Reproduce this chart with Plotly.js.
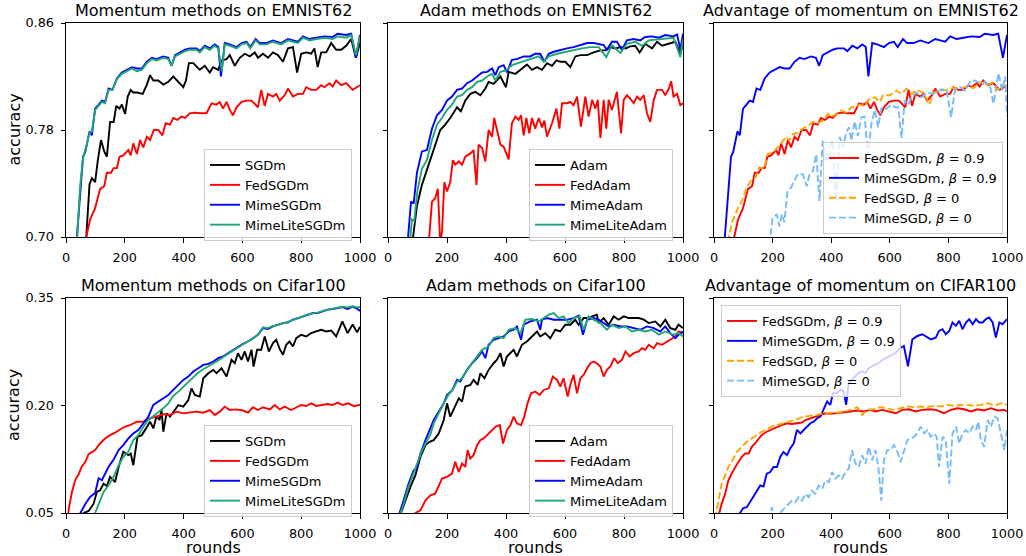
<!DOCTYPE html>
<html>
<head>
<meta charset="utf-8">
<script src="https://cdn.plot.ly/plotly-3.0.1.min.js"></script>
<style>html,body{margin:0;padding:0;background:#fff;}#chart{width:1026px;height:556px;}</style>
</head>
<body>
<div id="chart"></div>
<script>
// ---------- EMNIST62 (top row) ----------
const sgdmEmR = [0,60,69,80,88,99,108,119,130,139,150,162,171,182,190,201,210,220,229,241,261,275,286,297,314,331,348,365,382,399,408,418,433,455,472,489,500,518,529,546,557,574,591,608,625,642,653,670,687,704,721,738,755,772,786,800,817,834,845,856,868,885,902,919,936,953,970,986,1000];
const sgdmEmAcc = [0.3,0.62,0.70,0.7395,0.744,0.741,0.757,0.7725,0.764,0.760,0.786,0.786,0.798,0.796,0.799,0.792,0.805,0.810,0.808,0.808,0.807,0.814,0.821,0.817,0.817,0.814,0.816,0.820,0.816,0.812,0.817,0.830,0.830,0.825,0.828,0.823,0.827,0.825,0.832,0.833,0.836,0.828,0.834,0.837,0.835,0.838,0.834,0.837,0.834,0.838,0.836,0.831,0.841,0.842,0.823,0.837,0.838,0.837,0.841,0.827,0.838,0.838,0.845,0.840,0.840,0.843,0.848,0.834,0.845];

const fedSgdmEmR = [0,60,69,82,99,116,130,139,153,162,173,182,195,212,220,229,241,252,263,275,286,299,314,328,339,354,365,379,393,405,421,438,455,478,495,512,523,534,546,557,568,580,597,614,631,653,664,676,687,704,715,727,744,755,772,789,806,817,834,851,868,879,896,907,919,936,953,975,1000];
const fedSgdmEmAcc = [0.3,0.67,0.70,0.713,0.7215,0.736,0.738,0.748,0.748,0.7515,0.7515,0.760,0.761,0.765,0.761,0.770,0.762,0.7725,0.767,0.775,0.7725,0.780,0.780,0.776,0.785,0.784,0.789,0.7875,0.790,0.789,0.7925,0.793,0.7925,0.7925,0.800,0.799,0.801,0.796,0.801,0.795,0.791,0.797,0.801,0.802,0.802,0.797,0.810,0.798,0.807,0.805,0.807,0.802,0.806,0.811,0.805,0.807,0.807,0.812,0.810,0.810,0.8135,0.812,0.815,0.8125,0.817,0.8135,0.815,0.810,0.8135];

const mimeSgdmEmR = [0,30,37,48,58,66,73,80,88,99,111,122,133,145,158,173,190,207,224,241,258,275,292,308,331,348,359,371,388,405,421,444,455,472,489,506,518,527,540,557,580,597,614,627,645,659,681,704,732,755,772,789,806,828,851,879,907,924,953,970,986,1000];
const mimeSgdmEmAcc = [0.3,0.67,0.70,0.735,0.760,0.764,0.7725,0.779,0.776,0.796,0.799,0.802,0.801,0.811,0.810,0.8185,0.823,0.825,0.827,0.826,0.826,0.831,0.834,0.833,0.835,0.834,0.828,0.836,0.838,0.840,0.841,0.841,0.839,0.843,0.841,0.844,0.842,0.820,0.845,0.844,0.842,0.845,0.846,0.842,0.848,0.845,0.845,0.847,0.845,0.848,0.847,0.846,0.850,0.848,0.849,0.850,0.8495,0.852,0.851,0.852,0.834,0.851];

const mimeLiteSgdmEmR = [0,30,38,48,58,66,73,80,88,99,111,122,133,145,158,173,190,207,224,241,258,275,292,308,331,348,359,371,388,405,421,444,455,472,489,506,518,530,540,557,580,597,614,627,645,659,681,704,732,755,772,789,806,828,851,879,907,924,953,970,986,1000];
const mimeLiteSgdmEmAcc = [0.3,0.66,0.70,0.738,0.759,0.765,0.771,0.778,0.779,0.795,0.798,0.801,0.800,0.810,0.810,0.818,0.822,0.824,0.826,0.824,0.825,0.830,0.833,0.832,0.834,0.833,0.828,0.835,0.837,0.839,0.840,0.840,0.838,0.842,0.840,0.843,0.841,0.824,0.844,0.843,0.841,0.844,0.845,0.841,0.847,0.844,0.844,0.846,0.844,0.847,0.846,0.845,0.849,0.847,0.848,0.849,0.848,0.850,0.849,0.851,0.836,0.850];

const adamEmR = [0,75,85,98,115,132,149,166,177,194,211,234,247,262,279,296,313,330,341,358,381,400,409,432,454,471,488,505,522,539,556,571,584,601,618,635,652,675,697,720,737,754,771,788,805,821,838,853,872,895,912,929,951,974,991,1000];
const adamEmAcc = [0.3,0.67,0.70,0.723,0.739,0.750,0.761,0.7725,0.780,0.784,0.789,0.797,0.794,0.802,0.807,0.8085,0.806,0.811,0.816,0.8145,0.820,0.812,0.8235,0.822,0.826,0.829,0.825,0.827,0.825,0.830,0.828,0.832,0.831,0.831,0.827,0.835,0.836,0.836,0.838,0.8395,0.8395,0.842,0.841,0.842,0.841,0.8425,0.843,0.838,0.8445,0.841,0.846,0.843,0.8445,0.846,0.837,0.845];

const fedAdamEmR = [0,130,141,149,160,169,177,183,191,200,211,220,228,240,251,262,279,290,300,307,319,330,341,353,360,369,381,392,409,420,432,443,451,460,469,479,488,499,511,522,530,539,556,571,581,590,607,618,629,641,654,669,680,692,703,711,720,731,740,748,759,776,790,799,810,821,833,844,855,867,878,889,901,912,929,940,952,960,968,980,991,1000];
const fedAdamEmAcc = [0.3,0.67,0.70,0.7265,0.729,0.736,0.695,0.704,0.741,0.734,0.741,0.7575,0.754,0.7565,0.754,0.760,0.7625,0.765,0.739,0.769,0.7665,0.7565,0.780,0.775,0.789,0.781,0.769,0.7675,0.758,0.785,0.790,0.7875,0.791,0.776,0.789,0.7775,0.789,0.781,0.789,0.782,0.787,0.775,0.785,0.796,0.781,0.800,0.800,0.801,0.7985,0.805,0.7825,0.805,0.790,0.8025,0.796,0.8025,0.774,0.8025,0.781,0.8025,0.795,0.8085,0.7775,0.8025,0.806,0.8035,0.800,0.805,0.8025,0.806,0.7925,0.786,0.8025,0.810,0.810,0.806,0.811,0.8165,0.805,0.807,0.7985,0.800];

const mimeAdamEmR = [0,60,68,78,87,98,115,132,149,166,183,200,217,234,251,268,285,302,319,336,353,364,375,392,403,420,437,460,482,499,516,530,545,562,584,607,629,652,675,697,714,731,742,759,776,793,810,833,855,872,895,918,940,968,980,991,1000];
const mimeAdamEmAcc = [0.3,0.66,0.70,0.7265,0.725,0.748,0.764,0.765,0.781,0.791,0.795,0.802,0.805,0.810,0.811,0.815,0.817,0.820,0.823,0.8235,0.826,0.821,0.827,0.8285,0.823,0.8325,0.833,0.835,0.835,0.837,0.837,0.831,0.837,0.8385,0.840,0.841,0.842,0.8435,0.845,0.845,0.844,0.8435,0.840,0.846,0.846,0.840,0.847,0.848,0.847,0.8495,0.850,0.849,0.851,0.850,0.8515,0.840,0.852];

const mimeLiteAdamEmR = [0,65,76,81,89,100,115,132,149,166,183,200,217,234,251,268,285,302,319,336,353,364,381,400,420,443,466,488,511,528,545,573,601,629,658,686,714,740,759,788,810,838,861,884,912,940,968,991,1000];
const mimeLiteAdamEmAcc = [0.3,0.67,0.70,0.713,0.712,0.735,0.751,0.7575,0.7725,0.784,0.789,0.795,0.799,0.805,0.806,0.810,0.812,0.816,0.817,0.820,0.822,0.817,0.8235,0.8245,0.8285,0.830,0.832,0.833,0.835,0.831,0.835,0.837,0.8385,0.840,0.841,0.842,0.842,0.8345,0.8435,0.8375,0.8445,0.846,0.843,0.847,0.8475,0.848,0.849,0.8345,0.848];

const fedSgdEmR = [0,40,51,63,80,97,114,126,143,154,171,183,200,217,229,246,257,269,286,303,320,337,354,371,389,400,417,434,451,469,486,497,514,531,549,566,577,600,623,640,657,674,691,714,735,749,771,794,817,840,863,886,909,926,949,966,983,1000];
const fedSgdEmAcc = [0.3,0.67,0.70,0.712,0.7205,0.728,0.738,0.742,0.745,0.752,0.751,0.762,0.763,0.767,0.770,0.775,0.772,0.777,0.778,0.781,0.783,0.786,0.785,0.787,0.792,0.7895,0.792,0.7945,0.793,0.797,0.797,0.799,0.798,0.8035,0.8045,0.801,0.806,0.806,0.8095,0.807,0.811,0.807,0.810,0.808,0.799,0.808,0.8095,0.810,0.8115,0.811,0.8125,0.8115,0.816,0.8135,0.815,0.810,0.8125,0.8135];

const mimeSgdEmR = [0,180,192,200,214,223,232,240,251,263,274,286,303,317,326,337,349,360,371,383,394,406,417,429,440,451,461,469,480,491,503,514,526,537,549,560,571,583,594,606,617,629,640,651,663,674,691,709,726,743,760,777,794,809,823,840,857,874,891,909,926,943,954,971,983,994,1000];
const mimeSgdEmAcc = [0.3,0.67,0.70,0.714,0.717,0.708,0.717,0.711,0.7345,0.737,0.742,0.747,0.747,0.738,0.747,0.749,0.762,0.727,0.772,0.757,0.767,0.772,0.727,0.775,0.767,0.778,0.782,0.772,0.7865,0.7755,0.7895,0.790,0.7615,0.7845,0.795,0.782,0.796,0.795,0.797,0.799,0.797,0.797,0.774,0.802,0.799,0.8045,0.808,0.8045,0.808,0.807,0.808,0.8105,0.8095,0.7895,0.8105,0.812,0.8095,0.816,0.817,0.8145,0.816,0.812,0.7995,0.8225,0.8095,0.820,0.7905];

// ---------- Cifar100 (bottom row) ----------
const sgdmCiR = [0,50,60,77,94,105,116,128,139,150,167,179,195,212,220,229,243,258,275,286,297,308,318,325,331,342,354,365,382,399,416,427,438,455,467,484,501,512,529,546,563,574,585,597,608,619,631,638,650,664,676,690,704,715,727,738,749,760,772,783,800,817,834,851,868,885,902,919,930,940,958,975,990,1000];
const sgdmCiAcc = [0.0,0.04,0.05,0.0528,0.063,0.0794,0.0817,0.091,0.0873,0.1004,0.0933,0.1144,0.1354,0.1307,0.133,0.1167,0.1564,0.1587,0.1704,0.1774,0.168,0.1853,0.1797,0.1937,0.1634,0.189,0.1844,0.1914,0.2007,0.1984,0.2077,0.224,0.2147,0.2124,0.238,0.245,0.2497,0.245,0.252,0.2404,0.2637,0.259,0.273,0.2637,0.2754,0.2614,0.2777,0.2544,0.2777,0.2777,0.2963,0.2754,0.287,0.2917,0.2786,0.2707,0.2847,0.2893,0.2823,0.294,0.2987,0.2963,0.301,0.3033,0.3057,0.3033,0.3047,0.2963,0.308,0.3173,0.301,0.313,0.302,0.310];

const fedSgdmCiR = [0,5,9,20,32,43,54,66,77,88,99,116,133,150,167,184,201,218,241,263,286,308,331,354,376,399,421,444,467,489,506,523,540,557,580,602,619,636,653,670,693,710,727,744,766,783,800,817,834,851,868,890,907,924,941,960,980,1000];
const fedSgdmCiAcc = [0.0,0.04,0.0547,0.079,0.0967,0.104,0.1153,0.1214,0.132,0.135,0.1377,0.147,0.154,0.1587,0.162,0.1666,0.1704,0.1727,0.1774,0.1774,0.182,0.1844,0.188,0.1867,0.1914,0.189,0.190,0.1914,0.190,0.1937,0.1867,0.1914,0.1984,0.1937,0.1946,0.193,0.190,0.1975,0.1937,0.1975,0.1946,0.2007,0.1946,0.1984,0.1937,0.1975,0.2007,0.1993,0.203,0.1993,0.2007,0.2021,0.2007,0.204,0.2007,0.203,0.199,0.201];

const mimeSgdmCiR = [0,40,49,66,82,99,111,122,133,145,162,179,195,212,229,246,263,280,297,314,331,348,365,382,399,416,433,450,467,484,501,518,534,551,568,585,602,619,636,653,670,687,704,721,738,755,772,789,806,823,840,856,873,890,907,924,941,958,975,990,1000];
const mimeSgdmCiAcc = [0.0,0.04,0.05,0.063,0.0724,0.078,0.0985,0.0957,0.105,0.1144,0.1247,0.1377,0.1447,0.154,0.161,0.1657,0.175,0.1844,0.2007,0.2054,0.21,0.2147,0.2217,0.2287,0.2357,0.2404,0.2474,0.252,0.2567,0.258,0.2614,0.266,0.2684,0.273,0.2777,0.2814,0.286,0.2893,0.294,0.2987,0.308,0.3066,0.3103,0.3127,0.315,0.316,0.3197,0.322,0.3243,0.3267,0.329,0.329,0.3313,0.3337,0.3346,0.336,0.3374,0.3346,0.338,0.335,0.332];

const mimeLiteSgdmCiR = [0,90,99,111,128,145,162,179,195,212,229,246,263,280,297,314,331,348,365,382,399,416,433,450,467,484,501,518,534,551,568,585,602,619,636,653,670,687,704,721,738,755,772,789,806,823,840,856,873,890,907,924,941,958,975,990,1000];
const mimeLiteSgdmCiAcc = [0.0,0.04,0.05,0.063,0.0794,0.0887,0.1004,0.1167,0.1284,0.1354,0.1517,0.1587,0.1704,0.1797,0.1853,0.19,0.196,0.203,0.2133,0.2194,0.2264,0.2334,0.2404,0.246,0.2506,0.2543,0.259,0.2627,0.2674,0.272,0.277,0.281,0.2855,0.2895,0.2935,0.299,0.309,0.308,0.311,0.3125,0.3145,0.316,0.319,0.3215,0.3245,0.327,0.3285,0.3295,0.332,0.3335,0.3355,0.3365,0.338,0.337,0.3385,0.337,0.3375];

const adamCiR = [0,35,42,59,76,93,110,127,141,155,172,189,200,211,228,240,251,262,279,290,304,313,327,341,358,369,381,392,403,415,426,437,454,471,488,505,516,533,550,567,584,601,618,635,646,663,675,692,708,714,731,748,765,782,799,816,833,850,867,884,906,923,940,957,974,985,1000];
const adamCiAcc = [0.0,0.04,0.05,0.0677,0.0864,0.1027,0.1284,0.1447,0.1494,0.1517,0.161,0.1797,0.203,0.1844,0.1984,0.21,0.2054,0.2264,0.2287,0.2357,0.2287,0.245,0.238,0.2497,0.259,0.2637,0.273,0.2544,0.2684,0.273,0.2777,0.2684,0.2847,0.2893,0.2963,0.3033,0.2963,0.301,0.294,0.3057,0.3033,0.3127,0.3127,0.3197,0.3127,0.322,0.322,0.3243,0.3267,0.315,0.322,0.3127,0.3243,0.3197,0.3243,0.322,0.322,0.322,0.3197,0.315,0.3173,0.3103,0.3197,0.308,0.3057,0.3127,0.308];

const fedAdamCiR = [0,85,93,110,127,144,160,172,183,200,217,228,240,251,262,270,279,290,302,313,324,336,353,364,379,390,403,415,426,437,451,462,473,485,499,514,528,545,559,573,584,595,609,618,629,641,652,663,675,686,697,708,720,731,742,754,767,779,793,805,819,833,850,861,872,884,901,912,929,946,963,974,985,1000];
const fedAdamCiAcc = [0.0,0.04,0.05,0.0537,0.0677,0.0747,0.077,0.0887,0.098,0.1004,0.105,0.1214,0.1074,0.119,0.1144,0.1377,0.126,0.1307,0.1447,0.1517,0.154,0.1587,0.1657,0.1704,0.1727,0.147,0.1657,0.1727,0.1844,0.175,0.1727,0.1844,0.203,0.217,0.2194,0.2147,0.2217,0.224,0.2404,0.2357,0.2264,0.238,0.2124,0.2287,0.2427,0.217,0.238,0.2427,0.252,0.259,0.2614,0.259,0.2544,0.2404,0.2497,0.2544,0.266,0.259,0.2637,0.2754,0.2684,0.273,0.2754,0.28,0.2777,0.2847,0.28,0.287,0.2847,0.2893,0.294,0.2963,0.3033,0.301];

const mimeAdamCiR = [0,32,40,53,70,87,96,110,127,141,155,172,189,200,217,234,245,268,285,302,319,330,341,358,375,392,409,426,437,451,460,482,505,516,522,539,562,584,607,629,646,661,675,697,714,731,748,765,788,810,833,855,878,901,923,940,957,974,985,1000];
const mimeAdamCiAcc = [0.0,0.04,0.05,0.0677,0.091,0.1097,0.1107,0.133,0.1517,0.1657,0.1797,0.1914,0.203,0.2147,0.2208,0.2357,0.2334,0.2497,0.259,0.266,0.2754,0.266,0.2847,0.2917,0.294,0.2963,0.3033,0.3057,0.3103,0.2917,0.3127,0.3173,0.3197,0.3057,0.3197,0.322,0.3197,0.3197,0.3197,0.322,0.3253,0.2987,0.3197,0.322,0.3197,0.315,0.3103,0.3127,0.3103,0.3103,0.308,0.3057,0.3103,0.308,0.3033,0.3103,0.301,0.294,0.2987,0.3033];

const mimeLiteAdamCiR = [0,34,42,55,70,87,100,115,130,143,155,172,189,205,217,234,250,268,285,302,319,341,358,375,392,409,432,449,466,488,511,528,545,562,579,595,612,629,650,663,680,697,720,742,759,782,805,827,850,872,895,918,940,968,985,1000];
const mimeLiteAdamCiAcc = [0.0,0.04,0.05,0.065,0.087,0.107,0.122,0.137,0.1494,0.1587,0.175,0.190,0.203,0.215,0.221,0.233,0.238,0.250,0.259,0.268,0.2777,0.2823,0.294,0.2963,0.294,0.3057,0.308,0.301,0.3197,0.3206,0.3173,0.322,0.3267,0.329,0.322,0.3243,0.315,0.322,0.3243,0.3057,0.3243,0.3197,0.315,0.3057,0.3127,0.308,0.3103,0.3033,0.3057,0.3033,0.3057,0.2987,0.3033,0.2987,0.301,0.2963];

const fedSgdmCi2R = [0,10,18,26,38,49,60,72,83,95,106,118,129,140,152,163,180,197,215,232,249,266,283,300,312,329,346,363,380,397,420,443,466,489,511,534,551,574,597,620,643,666,688,711,734,757,785,808,831,854,877,900,922,945,968,991,1000];
const fedSgdmCi2Acc = [0.0,0.035,0.05,0.0627,0.0767,0.0955,0.1048,0.1142,0.1213,0.1283,0.133,0.133,0.1423,0.147,0.154,0.1588,0.1634,0.1667,0.1695,0.1728,0.1752,0.1742,0.1752,0.1761,0.1798,0.1822,0.1845,0.1869,0.1892,0.1883,0.1892,0.1902,0.1916,0.193,0.1916,0.1939,0.1916,0.1939,0.1916,0.1892,0.1939,0.1948,0.1916,0.1939,0.1948,0.1939,0.1892,0.1939,0.1962,0.1948,0.1916,0.1948,0.193,0.1962,0.193,0.1939,0.1916];

const mimeSgdmCi2R = [0,80,89,100,112,123,135,146,158,169,180,192,203,215,226,237,249,260,272,283,295,306,317,329,340,352,363,374,386,397,406,420,432,443,451,460,471,483,494,506,517,528,540,551,563,574,591,603,620,637,648,662,677,694,711,728,740,757,768,780,791,803,814,826,837,848,860,871,883,894,905,917,928,939,951,962,974,985,1000];
const mimeSgdmCi2Acc = [0.0,0.04,0.05,0.057,0.058,0.065,0.0744,0.0814,0.0884,0.087,0.1048,0.1072,0.1142,0.1142,0.1283,0.1353,0.1306,0.14,0.147,0.1658,0.1611,0.1658,0.1705,0.1752,0.1775,0.1822,0.1845,0.1939,0.2056,0.2009,0.2173,0.2173,0.222,0.2197,0.2009,0.2314,0.2361,0.2408,0.2455,0.2478,0.2455,0.2525,0.2548,0.2572,0.2595,0.2633,0.2666,0.2698,0.2736,0.2806,0.283,0.2548,0.2923,0.297,0.2994,0.2947,0.2923,0.2947,0.3041,0.3064,0.2994,0.3041,0.3158,0.3111,0.3181,0.3064,0.3158,0.3205,0.3134,0.3205,0.3158,0.3158,0.3205,0.3228,0.3158,0.2947,0.3158,0.3134,0.3205];

const fedSgdCiR = [0,3,7,15,26,38,49,60,78,95,112,129,146,163,180,197,215,237,260,283,306,329,352,374,397,420,443,466,489,506,523,546,568,591,614,637,660,683,705,728,751,774,797,820,842,865,888,911,934,957,979,1000];
const fedSgdCiAcc = [0.0,0.035,0.05,0.0673,0.0908,0.1025,0.1142,0.1213,0.1353,0.1423,0.1494,0.154,0.1588,0.1634,0.1667,0.1705,0.1728,0.1752,0.1775,0.1808,0.1845,0.1855,0.1869,0.1892,0.1892,0.1902,0.1916,0.1939,0.1977,0.1869,0.1939,0.1948,0.1977,0.1962,0.1939,0.1962,0.1986,0.1977,0.1986,0.1977,0.1995,0.1986,0.2009,0.1995,0.2009,0.2009,0.1995,0.2009,0.2033,0.1995,0.2033,0.2009];

const mimeSgdCiR = [190,197,205,220,232,243,255,266,277,289,300,312,323,334,346,357,369,380,392,403,414,426,437,449,460,471,483,494,506,517,528,540,551,561,571,580,591,603,614,626,637,648,660,671,683,694,705,717,728,740,751,760,768,780,791,803,814,826,837,848,860,871,883,894,902,911,922,934,945,957,968,979,991,1000];
const mimeSgdCiAcc = [0.04,0.058,0.045,0.048,0.0533,0.058,0.0627,0.0673,0.065,0.072,0.0673,0.0767,0.072,0.0814,0.0767,0.0884,0.0837,0.0955,0.0931,0.1072,0.0978,0.1025,0.0978,0.1072,0.1119,0.1377,0.1189,0.1142,0.1306,0.1189,0.1423,0.1236,0.1377,0.1142,0.0673,0.1236,0.1377,0.1377,0.1447,0.1353,0.1213,0.1353,0.1517,0.1541,0.1564,0.1611,0.1705,0.1611,0.1658,0.1564,0.1611,0.1564,0.1142,0.1564,0.1517,0.0908,0.1611,0.1705,0.147,0.1611,0.1658,0.1611,0.1705,0.1658,0.1775,0.1517,0.1423,0.1798,0.1705,0.1845,0.1822,0.1611,0.1377,0.1658];

// ---------- labels ----------
const panelTitles = ["Momentum methods on EMNIST62","Adam methods on EMNIST62","Advantage of momentum on EMNIST62",
                     "Momentum methods on Cifar100","Adam methods on Cifar100","Advantage of momentum on CIFAR100"];
const xTickVals = [0,200,400,600,800,1000];
const yTopTicks = [0.70,0.78,0.86];
const yTopTickText = ["0.70","0.78","0.86"];
const yBotTicks = [0.05,0.20,0.35];
const yBotTickText = ["0.05","0.20","0.35"];
const xLabel = "rounds";
const yLabel = "accuracy";

// ---------- styling ----------
const W = 1026, H = 556;
const FONT = "DejaVu Sans";
const C = {black:"#000000", red:"#ff0000", blue:"#0000ff", green:"#1fa774", orange:"#ffa500", lblue:"#75bbfd"};
const colPx = [[66,360],[388,683],[714,1007]];
const rowPx = [[23,237],[298,513]];
const legendPx = [[204,149],[529,149],[823,142],[204,425],[529,425],[721,305]];

function tr(x, y, name, color, idx, dash){
  const s = idx===1 ? "" : String(idx);
  return {type:"scatter", mode:"lines", x:x, y:y, name:name,
    line:{color:color, width:1.9, dash: dash ? "7px,3px" : "solid"},
    xaxis:"x"+s, yaxis:"y"+s, legend:"legend"+s, hoverinfo:"skip"};
}
const b09 = ", <i>β</i> = 0.9", b0 = ", <i>β</i> = 0";
const traces = [
  tr(sgdmEmR, sgdmEmAcc, "SGDm", C.black, 1),
  tr(fedSgdmEmR, fedSgdmEmAcc, "FedSGDm", C.red, 1),
  tr(mimeSgdmEmR, mimeSgdmEmAcc, "MimeSGDm", C.blue, 1),
  tr(mimeLiteSgdmEmR, mimeLiteSgdmEmAcc, "MimeLiteSGDm", C.green, 1),

  tr(adamEmR, adamEmAcc, "Adam", C.black, 2),
  tr(fedAdamEmR, fedAdamEmAcc, "FedAdam", C.red, 2),
  tr(mimeAdamEmR, mimeAdamEmAcc, "MimeAdam", C.blue, 2),
  tr(mimeLiteAdamEmR, mimeLiteAdamEmAcc, "MimeLiteAdam", C.green, 2),

  tr(fedSgdmEmR, fedSgdmEmAcc, "FedSGDm"+b09, C.red, 3),
  tr(mimeSgdmEmR, mimeSgdmEmAcc, "MimeSGDm"+b09, C.blue, 3),
  tr(fedSgdEmR, fedSgdEmAcc, "FedSGD"+b0, C.orange, 3, true),
  tr(mimeSgdEmR, mimeSgdEmAcc, "MimeSGD"+b0, C.lblue, 3, true),

  tr(sgdmCiR, sgdmCiAcc, "SGDm", C.black, 4),
  tr(fedSgdmCiR, fedSgdmCiAcc, "FedSGDm", C.red, 4),
  tr(mimeSgdmCiR, mimeSgdmCiAcc, "MimeSGDm", C.blue, 4),
  tr(mimeLiteSgdmCiR, mimeLiteSgdmCiAcc, "MimeLiteSGDm", C.green, 4),

  tr(adamCiR, adamCiAcc, "Adam", C.black, 5),
  tr(fedAdamCiR, fedAdamCiAcc, "FedAdam", C.red, 5),
  tr(mimeAdamCiR, mimeAdamCiAcc, "MimeAdam", C.blue, 5),
  tr(mimeLiteAdamCiR, mimeLiteAdamCiAcc, "MimeLiteAdam", C.green, 5),

  tr(fedSgdmCi2R, fedSgdmCi2Acc, "FedSGDm"+b09, C.red, 6),
  tr(mimeSgdmCi2R, mimeSgdmCi2Acc, "MimeSGDm"+b09, C.blue, 6),
  tr(fedSgdCiR, fedSgdCiAcc, "FedSGD"+b0, C.orange, 6, true),
  tr(mimeSgdCiR, mimeSgdCiAcc, "MimeSGD"+b0, C.lblue, 6, true)
];

const layout = {
  width: W, height: H, margin:{l:0,r:0,t:0,b:0},
  paper_bgcolor:"#ffffff", plot_bgcolor:"#ffffff",
  font:{family:FONT, size:12.8, color:"#000"},
  showlegend:true, annotations:[]
};
const tickFont = {family:FONT, size:12.8, color:"#000"};
for (let i=0;i<6;i++){
  const s = i===0 ? "" : String(i+1);
  const col = i%3, row = Math.floor(i/3);
  const [x0,x1] = colPx[col], [y0,y1] = rowPx[row];
  layout["xaxis"+s] = {
    domain:[x0/W, x1/W], range:[0,1000], anchor:"y"+s,
    tickvals:xTickVals, ticks:"outside", ticklen:4.5, tickwidth:1, tickcolor:"#000",
    showline:true, mirror:true, linecolor:"#000", linewidth:1,
    showgrid:false, zeroline:false, tickfont:tickFont, ticklabelstandoff:4
  };
  layout["yaxis"+s] = {
    domain:[1-y1/H, 1-y0/H], range: row===0 ? [0.70,0.86] : [0.05,0.35], anchor:"x"+s,
    tickvals: row===0 ? yTopTicks : yBotTicks, ticktext: row===0 ? yTopTickText : yBotTickText,
    showticklabels: col===0,
    ticks:"outside", ticklen:4.5, tickwidth:1, tickcolor:"#000",
    showline:true, mirror:true, linecolor:"#000", linewidth:1,
    showgrid:false, zeroline:false, tickfont:tickFont, ticklabelstandoff:4
  };
  const [lx,ly] = legendPx[i];
  layout["legend"+s] = {
    x: lx/W, y: 1-ly/H, xanchor:"left", yanchor:"top", xref:"paper", yref:"paper",
    bgcolor:"rgba(255,255,255,0.8)", bordercolor:"#cccccc", borderwidth:1,
    font:{family:FONT, size:13, color:"#000"}, itemwidth:30, tracegroupgap:0
  };
  layout.annotations.push({
    text: panelTitles[i], xref:"paper", yref:"paper",
    x: (x0+x1)/2/W, y: 1-(y0-13)/H, xanchor:"center", yanchor:"middle",
    showarrow:false, font:{family:FONT, size:16, color:"#000"}
  });
  if (row===1){
    layout.annotations.push({
      text: xLabel, xref:"paper", yref:"paper",
      x: (x0+x1)/2/W, y: 1-547.5/H, xanchor:"center", yanchor:"middle",
      showarrow:false, font:{family:FONT, size:16, color:"#000"}
    });
  }
  if (col===0){
    layout.annotations.push({
      text: yLabel, xref:"paper", yref:"paper", textangle:-90,
      x: 13.5/W, y: 1-((y0+y1)/2)/H, xanchor:"center", yanchor:"middle",
      showarrow:false, font:{family:FONT, size:16, color:"#000"}
    });
  }
}
Plotly.newPlot("chart", traces, layout, {displayModeBar:false, staticPlot:true});
</script>
</body>
</html>
